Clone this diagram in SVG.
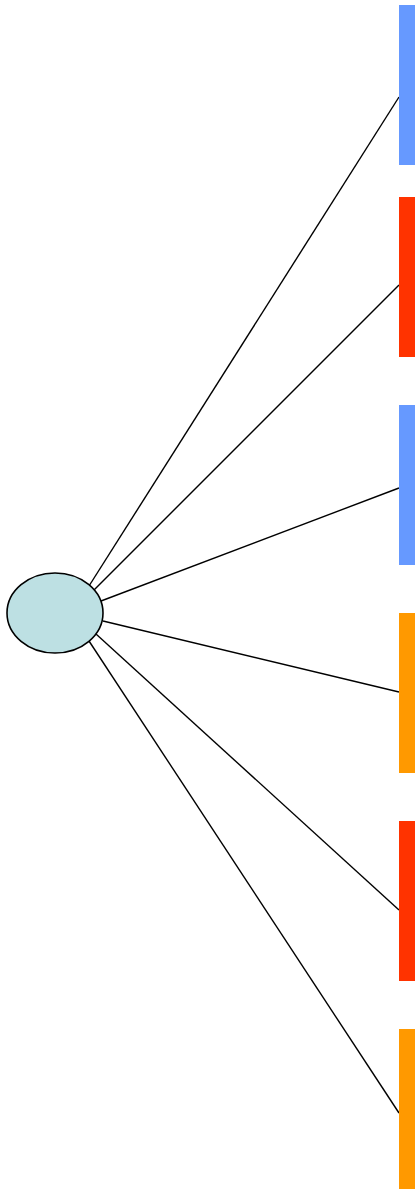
<svg xmlns="http://www.w3.org/2000/svg" width="415" height="1189" viewBox="0 0 415 1189">
<style>
.edge{stroke:#000;stroke-width:1.4;fill:none}
.blue{fill:#6699ff}
.red{fill:#ff3300}
.orange{fill:#ff9900}
</style>
<rect width="415" height="1189" fill="#fff"/>
<g id="connectors">
<path class="edge" d="M89,586 L399,97"/>
<path class="edge" d="M93,591 L399,285"/>
<path class="edge" d="M101,601 L399,488"/>
<path class="edge" d="M103,621 L399,692"/>
<path class="edge" d="M96,634 L399,910"/>
<path class="edge" d="M89,641 L399,1113"/>
</g>
<g id="center"><ellipse cx="55" cy="613" rx="48" ry="40" fill="#bde0e3" stroke="#000" stroke-width="1.6"/></g>
<g id="n1"><rect class="blue" x="399" y="5" width="16" height="160"/></g>
<g id="n2"><rect class="red" x="399" y="197" width="16" height="160"/></g>
<g id="n3"><rect class="blue" x="399" y="405" width="16" height="160"/></g>
<g id="n4"><rect class="orange" x="399" y="613" width="16" height="160"/></g>
<g id="n5"><rect class="red" x="399" y="821" width="16" height="160"/></g>
<g id="n6"><rect class="orange" x="399" y="1029" width="16" height="160"/></g>
</svg>
